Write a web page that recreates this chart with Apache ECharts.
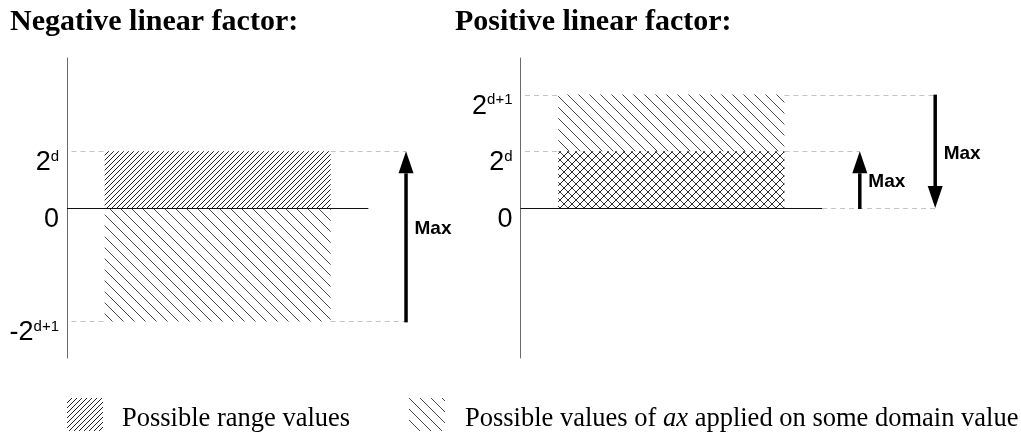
<!DOCTYPE html>
<html>
<head>
<meta charset="utf-8">
<script src="https://cdn.jsdelivr.net/npm/echarts@6/dist/echarts.min.js"></script>
<style>
  html, body { margin: 0; padding: 0; background: #fff; }
  #chart { width: 1021px; height: 434px; }
</style>
</head>
<body>
<div id="chart"></div>
<script>
// Value units: 1 = 2^d, 2 = 2^(d+1). Horizontal positions are in abstract units.
const PANEL_TITLES = ['Negative linear factor:', 'Positive linear factor:'];
const NEG_TICKS = [-2, 0, 1];
const POS_TICKS = [0, 1, 2];
const TICK_TEXT = { '-2': ['-2', 'd+1'], '0': ['0', ''], '1': ['2', 'd'], '2': ['2', 'd+1'] };
const LEGEND_LABELS = ['Possible range values', 'Possible values of ', 'ax', ' applied on some domain value'];
const ARROW_LABEL = 'Max';

// hatched regions: [xStart, xEnd, yLow, yHigh]
const negRange = [[1, 7, 0, 1]];
const negAx = [[1, 7, -2, 0]];
const posAx = [[1, 7, 0, 2]];
const posRange = [[1, 7, 0, 1]];

// zero lines: [xStart, xEnd, y]
const negZero = [[0, 8, 0]];
const posZero = [[0, 8, 0]];

// dashed guides: [y, xStart, xEnd]
const negGuides = [[1, 0.12, 1], [1, 7, 9], [-2, 0.12, 1], [-2, 7, 9]];
const posGuides = [[2, 0.12, 1], [2, 7, 11], [1, 0.12, 1], [1, 7, 9], [0, 8, 11]];

// arrows: [x, yFrom, yTo, labelY]
const negArrows = [[9, -2, 1, -0.37]];
const posArrows = [[9, 0, 1, 0.47], [11, 2, 0, 0.96]];

const SANS = '"Liberation Sans", Arial, sans-serif';
const SERIF = '"Liberation Serif", "Times New Roman", serif';

// diagonal line tiles used as fill patterns
function hatch(size, strokes, bg) {
  const c = document.createElement('canvas');
  c.width = c.height = size;
  const g = c.getContext('2d');
  if (bg) { g.fillStyle = bg; g.fillRect(0, 0, size, size); }
  g.lineWidth = 1;
  strokes.forEach(([dir, color]) => {
    g.strokeStyle = color;
    for (let k = -1; k <= 1; k++) {
      g.beginPath();
      if (dir === '/') { g.moveTo(k * size - 1, size + 1); g.lineTo(k * size + size + 1, -1); }
      else { g.moveTo(k * size - 1, -1); g.lineTo(k * size + size + 1, size + 1); }
      g.stroke();
    }
  });
  return { image: c, repeat: 'repeat' };
}

const PAT = {
  range: hatch(5, [['/', '#222']]),
  ax: hatch(11, [['\\', '#4a4a4a']]),
  both: hatch(8, [['/', '#222'], ['\\', '#3a3a3a']], '#fff')
};

function tickLabel(v) {
  const t = TICK_TEXT[String(v)];
  return t[1] ? '{m|' + t[0] + '}{s|' + t[1] + '}' : '{m|' + t[0] + '}';
}

function yAxis(gridIndex, ticks) {
  return {
    gridIndex, type: 'value', min: -2.646, max: 2.646,
    axisLine: { show: true, lineStyle: { color: '#6a6a6a', width: 1 } },
    axisTick: { show: false },
    splitLine: { show: false },
    axisLabel: {
      customValues: ticks, margin: 8, padding: [23, 0, 0, 0],
      formatter: tickLabel,
      rich: {
        m: { fontSize: 27, fontFamily: SANS, color: '#000' },
        s: { fontSize: 15, fontFamily: SANS, color: '#000', verticalAlign: 'top' }
      }
    }
  };
}

function xAxis(gridIndex, max) {
  return { gridIndex, type: 'value', min: 0, max, show: false };
}

function rectSeries(idx, data, fill, z) {
  return {
    type: 'custom', xAxisIndex: idx, yAxisIndex: idx, z, silent: true, data,
    renderItem(params, api) {
      const a = api.coord([api.value(0), api.value(3)]);
      const b = api.coord([api.value(1), api.value(2)]);
      return { type: 'rect', shape: { x: a[0], y: a[1], width: b[0] - a[0], height: b[1] - a[1] }, style: { fill } };
    }
  };
}

// horizontal segment between two points, drawn on a whole pixel row
function hLine(a, b, style) {
  const y = Math.round(a[1]) + 0.5;
  return { type: 'line', shape: { x1: a[0], y1: y, x2: b[0], y2: y }, style };
}

function guideSeries(idx, data) {
  return {
    type: 'custom', xAxisIndex: idx, yAxisIndex: idx, z: 1, silent: true, data,
    renderItem(params, api) {
      return hLine(api.coord([api.value(1), api.value(0)]), api.coord([api.value(2), api.value(0)]),
        { stroke: '#c4c4c4', lineWidth: 1, lineDash: [5, 4] });
    }
  };
}

function zeroSeries(idx, data) {
  return {
    type: 'custom', xAxisIndex: idx, yAxisIndex: idx, z: 4, silent: true, data,
    renderItem(params, api) {
      return hLine(api.coord([api.value(0), api.value(2)]), api.coord([api.value(1), api.value(2)]),
        { stroke: '#111', lineWidth: 1 });
    }
  };
}

function arrowSeries(idx, data) {
  return {
    type: 'custom', xAxisIndex: idx, yAxisIndex: idx, z: 5, silent: true, data,
    renderItem(params, api) {
      const from = api.coord([api.value(0), api.value(1)]);
      const to = api.coord([api.value(0), api.value(2)]);
      const lab = api.coord([api.value(0), api.value(3)]);
      const dir = to[1] < from[1] ? -1 : 1;
      const headLen = 22, headHalf = 7.5;
      const x = from[0];
      const base = to[1] - dir * headLen;
      return {
        type: 'group',
        children: [
          { type: 'rect', shape: { x: x - 1.75, y: Math.min(from[1], base), width: 3.5, height: Math.abs(base - from[1]) + 1 }, style: { fill: '#000' } },
          { type: 'polygon', shape: { points: [[x, to[1]], [x - headHalf, base], [x + headHalf, base]] }, style: { fill: '#000' } },
          { type: 'text', x: x + 8.5, y: lab[1], style: { text: ARROW_LABEL, font: 'bold 19px ' + SANS, fill: '#000', align: 'left', verticalAlign: 'middle' } }
        ]
      };
    }
  };
}

const titleStyle = { fontFamily: SERIF, fontWeight: 'bold', fontSize: 30, color: '#000' };

const option = {
  backgroundColor: '#fff',
  animation: false,
  title: [
    { text: PANEL_TITLES[0], left: 10, top: 7, padding: 0, textStyle: titleStyle },
    { text: PANEL_TITLES[1], left: 455, top: 7, padding: 0, textStyle: titleStyle }
  ],
  grid: [
    { left: 67, top: 58, width: 376.7, height: 300 },
    { left: 520.5, top: 58, width: 452.4, height: 300 }
  ],
  xAxis: [xAxis(0, 10), xAxis(1, 12)],
  yAxis: [yAxis(0, NEG_TICKS), yAxis(1, POS_TICKS)],
  series: [
    guideSeries(0, negGuides),
    rectSeries(0, negAx, PAT.ax, 2),
    rectSeries(0, negRange, PAT.range, 3),
    zeroSeries(0, negZero),
    arrowSeries(0, negArrows),

    guideSeries(1, posGuides),
    rectSeries(1, posAx, PAT.ax, 2),
    rectSeries(1, posRange, PAT.both, 3),
    zeroSeries(1, posZero),
    arrowSeries(1, posArrows)
  ],
  graphic: [
    { type: 'rect', shape: { x: 67, y: 398, width: 36, height: 33 }, style: { fill: PAT.range } },
    { type: 'text', x: 122, y: 419, style: { text: LEGEND_LABELS[0], font: '26.5px ' + SERIF, fill: '#000', verticalAlign: 'middle' } },
    { type: 'rect', shape: { x: 409, y: 398, width: 36, height: 33 }, style: { fill: PAT.ax } },
    {
      type: 'text', x: 465, y: 419,
      style: {
        text: '{r|' + LEGEND_LABELS[1] + '}{i|' + LEGEND_LABELS[2] + '}{r|' + LEGEND_LABELS[3] + '}',
        verticalAlign: 'middle',
        rich: {
          r: { fontFamily: SERIF, fontSize: 26.5, fill: '#000' },
          i: { fontFamily: SERIF, fontSize: 26.5, fontStyle: 'italic', fill: '#000' }
        }
      }
    }
  ]
};

const chart = echarts.init(document.getElementById('chart'), null, { renderer: 'canvas' });
chart.setOption(option);
</script>
</body>
</html>
